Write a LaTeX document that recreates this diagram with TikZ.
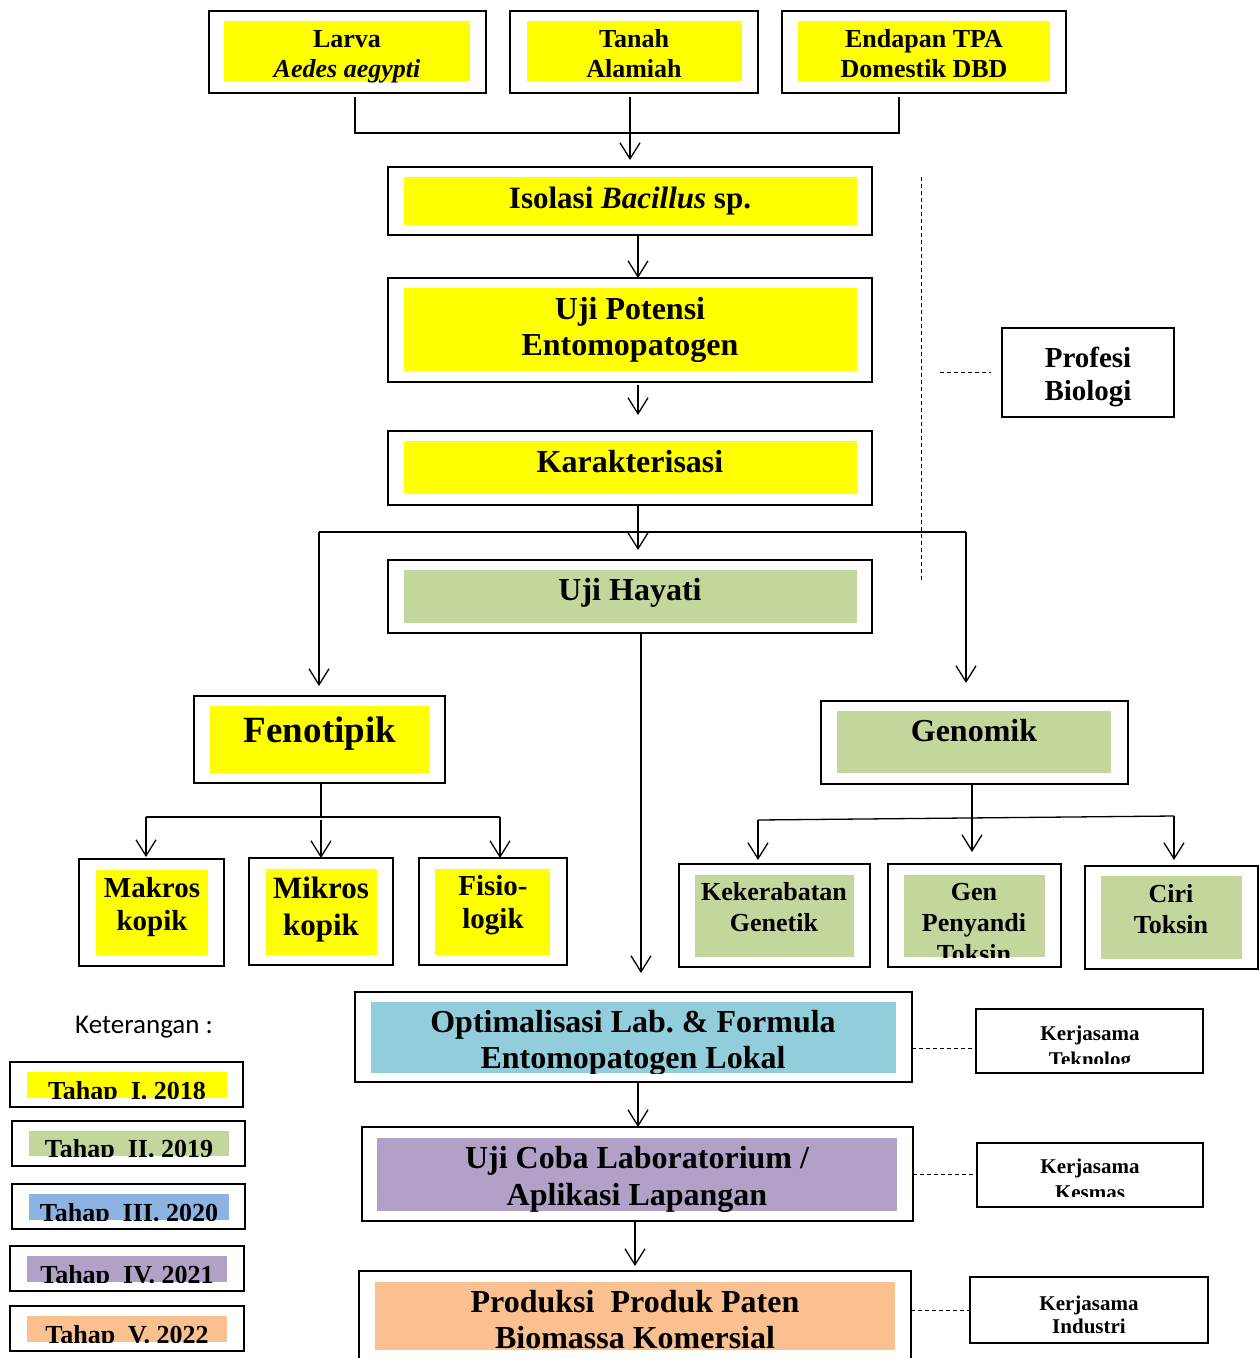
\documentclass[tikz,border=0pt]{standalone}
\usepackage{fontspec}
\setmainfont{Liberation Serif}
\newfontfamily\calfont{Carlito}
\usetikzlibrary{arrows.meta}
\definecolor{cyel}{HTML}{FFFF00}
\definecolor{cgrn}{HTML}{C3D69B}
\definecolor{ccyan}{HTML}{92CDDC}
\definecolor{cpur}{HTML}{B2A1C7}
\definecolor{corg}{HTML}{FAC090}
\definecolor{cblu}{HTML}{8DB3E2}
\frenchspacing
\newcommand\fs[1]{\fontsize{#1}{#1}\selectfont\bfseries}
\newcommand\ob[5]{\node[obox, minimum width={#4-#2}, minimum height={#5-#3}] (#1) at ({(#2+#4)/2},{(#3+#5)/2}) {};}
\newcommand\ib[5]{\fill[#1] (#2,#3) rectangle (#4,#5);}
\newcommand\tx[5]{\node[txt,font=\fs{#4}] (#1) at (#2,#3) {#5};}
\tikzset{
  obox/.style={draw, line width=2pt, inner sep=0pt, outer sep=0pt},
  txt/.style={anchor=base, inner sep=0pt, outer sep=0pt},
  conn/.style={line width=1.3pt},
  arr/.style={line width=1.3pt, -{Straight Barb[length=16pt,width=20pt,line width=1.3pt]}},
  dsh/.style={line width=1pt, dash pattern=on 4pt off 3pt},
}
\begin{document}
\begin{tikzpicture}[x=1pt,y=-1pt]
\useasboundingbox (0,0) rectangle (1260,1358);
\fill[white] (0,0) rectangle (1260,1358);

% ---- top sources
\ob{larva}{209}{11}{486}{93}
\ib{cyel}{224}{21}{470}{81}
\tx{t1a}{347}{47}{26}{Larva}
\node[txt,font=\fs{26}\itshape] (t1b) at (347,77) {Aedes aegypti};

\ob{tanah}{510}{11}{758}{93}
\ib{cyel}{527}{21}{742}{81}
\tx{t2a}{634}{47}{26}{Tanah}
\tx{t2b}{634}{77}{26}{Alamiah}

\ob{endap}{782}{11}{1066}{93}
\ib{cyel}{798}{21}{1050}{81}
\tx{t3a}{924}{47}{26}{Endapan TPA}
\tx{t3b}{924}{77}{26}{Domestik DBD}

% ---- main column
\ob{iso}{388}{167}{872}{235}
\ib{cyel}{404}{177}{857}{225}
\tx{t4}{630}{208}{31}{Isolasi \textit{Bacillus} sp.}

\ob{upot}{388}{278}{872}{382}
\ib{cyel}{404}{288}{857}{371}
\tx{t5a}{630}{319}{32}{Uji Potensi}
\tx{t5b}{630}{355}{32}{Entomopatogen}

\ob{kar}{388}{431}{872}{505}
\ib{cyel}{404}{441}{857}{494}
\tx{t6}{630}{472}{32}{Karakterisasi}

\ob{uh}{388}{560}{872}{633}
\ib{cgrn}{404}{570}{857}{623}
\tx{t7}{630}{600}{32}{Uji Hayati}

\ob{prof}{1002}{328}{1174}{417}
\tx{t8a}{1088}{367}{29}{Profesi}
\tx{t8b}{1088}{400}{29}{Biologi}

% ---- fenotipik branch
\ob{feno}{194}{696}{445}{783}
\ib{cyel}{210}{706}{429}{773}
\tx{t9}{320}{742}{37}{Fenotipik}

\ob{makro}{79}{859}{224}{966}
\ib{cyel}{96}{870}{208}{955}
\tx{t10a}{152}{897}{29}{Makros}
\tx{t10b}{152}{930}{29}{kopik}

\ob{mikro}{249}{858}{393}{965}
\ib{cyel}{266}{869}{377}{955}
\tx{t11a}{321}{898}{31}{Mikros}
\tx{t11b}{321}{935}{31}{kopik}

\ob{fisio}{419}{858}{567}{965}
\ib{cyel}{435}{869}{550}{955}
\tx{t12a}{493}{895}{29}{Fisio-}
\tx{t12b}{493}{928}{29}{logik}

% ---- genomik branch
\ob{geno}{821}{701}{1128}{784}
\ib{cgrn}{837}{711}{1111}{773}
\tx{t13}{974}{741}{32}{Genomik}

\ob{kek}{679}{864}{870}{967}
\ib{cgrn}{695}{875}{854}{957}
\tx{t14a}{774}{900}{26}{Kekerabatan}
\tx{t14b}{774}{931}{26}{Genetik}

\ob{gene}{888}{864}{1061}{967}
\ib{cgrn}{904}{875}{1045}{957}
\begin{scope}
\clip (904,875) rectangle (1045,957);
\tx{t15a}{974}{900}{26}{Gen}
\tx{t15b}{974}{931}{26}{Penyandi}
\tx{t15c}{974}{962}{26}{Toksin}
\end{scope}

\ob{ciri}{1085}{866}{1258}{969}
\ib{cgrn}{1101}{876}{1242}{959}
\tx{t16a}{1171}{902}{26}{Ciri}
\tx{t16b}{1171}{933}{26}{Toksin}

% ---- lower column
\ob{opt}{355}{992}{912}{1082}
\ib{ccyan}{371}{1002}{896}{1073}
\begin{scope}
\clip (371,1002) rectangle (896,1073);
\tx{t17a}{633}{1032}{32}{Optimalisasi Lab. \& Formula}
\tx{t17b}{633}{1068}{32}{Entomopatogen Lokal}
\end{scope}

\ob{coba}{362}{1127}{913}{1221}
\ib{cpur}{377}{1138}{897}{1211}
\tx{t18a}{637}{1168}{32}{Uji Coba Laboratorium /}
\tx{t18b}{637}{1205}{32}{Aplikasi Lapangan}

\ob{prod}{359}{1271}{911}{1380}
\ib{corg}{375}{1282}{895}{1350}
\tx{t19a}{635}{1312}{32}{Produksi\ \ Produk Paten}
\tx{t19b}{635}{1348}{32}{Biomassa Komersial}

\ob{kt}{976}{1009}{1203}{1073}
\begin{scope}
\clip (976,1009) rectangle (1203,1063);
\tx{t20a}{1090}{1040}{21}{Kerjasama}
\tx{t20b}{1090}{1066}{21}{Teknolog}
\end{scope}

\ob{ks}{977}{1143}{1203}{1207}
\begin{scope}
\clip (977,1143) rectangle (1203,1196);
\tx{t21a}{1090}{1173}{21}{Kerjasama}
\tx{t21b}{1090}{1199}{21}{Kesmas}
\end{scope}

\ob{ki}{970}{1277}{1208}{1343}
\tx{t22a}{1089}{1310}{21}{Kerjasama}
\tx{t22b}{1089}{1333}{21}{Industri}

% ---- legend
\node[anchor=base west, inner sep=0pt, font=\calfont\fontsize{27}{27}\selectfont] (ket) at (75,1033) {Keterangan :};

\ob{lg1}{10}{1062}{243}{1107}
\ib{cyel}{27}{1072}{227}{1098}
\begin{scope}\clip (27,1072) rectangle (227,1098);
\tx{l1}{127}{1099}{26}{Tahap\ \ I. 2018}
\end{scope}

\ob{lg2}{12}{1121}{245}{1166}
\ib{cgrn}{29}{1131}{229}{1156}
\begin{scope}\clip (29,1131) rectangle (229,1156);
\tx{l2}{129}{1157}{26}{Tahap\ \ II. 2019}
\end{scope}

\ob{lg3}{12}{1184}{245}{1229}
\ib{cblu}{29}{1194}{229}{1220}
\begin{scope}\clip (29,1194) rectangle (229,1220);
\tx{l3}{129}{1221}{26}{Tahap\ \ III. 2020}
\end{scope}

\ob{lg4}{10}{1246}{244}{1291}
\ib{cpur}{27}{1256}{227}{1282}
\begin{scope}\clip (27,1256) rectangle (227,1282);
\tx{l4}{127}{1283}{26}{Tahap\ \ IV. 2021}
\end{scope}

\ob{lg5}{10}{1306}{244}{1351}
\ib{corg}{27}{1316}{227}{1342}
\begin{scope}\clip (27,1316) rectangle (227,1342);
\tx{l5}{127}{1343}{26}{Tahap\ \ V. 2022}
\end{scope}

% ---- connectors
\coordinate (jTop) at (630,133);
\draw[conn] ([xshift=7.5pt,yshift=-4pt]larva.south) |- (jTop) -| ([xshift=-25pt,yshift=-4pt]endap.south);
\draw[arr] ([xshift=-4pt,yshift=-4pt]tanah.south) -- ([yshift=7pt]iso.north);
\draw[arr] ([xshift=8pt]iso.south) -- ([xshift=8pt]upot.north);
\draw[arr] ([xshift=8pt,yshift=-3pt]upot.south) -- ([xshift=8pt,yshift=16pt]kar.north);
\draw[arr] ([xshift=8pt]kar.south) -- ([xshift=8pt,yshift=10pt]uh.north);

\coordinate (kL) at (319,532);
\coordinate (kR) at (966,532);
\draw[conn] (kL) -- (kR);
\draw[arr] (kL) -- ([yshift=10pt]kL |- feno.north);
\draw[arr] (kR) -- ([yshift=18pt]kR |- geno.north);

\draw[arr] ([xshift=11pt]uh.south) -- ([xshift=11pt,yshift=19pt]uh.south |- opt.north);

\coordinate (fL) at (146,817);
\coordinate (fR) at (500,817);
\draw[conn] ([xshift=1.5pt]feno.south) -- ([xshift=1.5pt]feno.south |- fL);
\draw[conn] (fL) -- (fR);
\draw[arr] (fL) -- ([yshift=2pt]fL |- makro.north);
\draw[arr] ([xshift=1.5pt,yshift=-3pt]feno.south |- fL) -- ([xshift=1.5pt]feno.south |- mikro.north);
\draw[arr] (fR) -- (fR |- fisio.north);

\coordinate (gL) at (758,820);
\coordinate (gR) at (1174,816);
\draw[arr] ([xshift=-2.5pt]geno.south) -- ([xshift=-2.5pt,yshift=12pt]geno.south |- gene.north);
\draw[conn] (gL) -- (gR);
\draw[arr] (gL) -- ([yshift=4pt]gL |- kek.north);
\draw[arr] (gR) -- ([yshift=6pt]gR |- ciri.north);

\coordinate (dT) at (921,177);
\coordinate (dB) at (921,582);
\draw[dsh] (dT) -- (dB);
\draw[dsh] ([xshift=-62pt]prof.west) -- ([xshift=-11pt]prof.west);

\draw[arr] ([xshift=4.5pt]opt.south) -- ([xshift=4.5pt]opt.south |- coba.north);
\draw[arr] ([xshift=-2.5pt]coba.south) -- ([xshift=-2.5pt,yshift=5pt]coba.south |- prod.north);

\draw[dsh] ([yshift=-11pt]opt.east) -- ([yshift=-11pt]opt.east -| kt.west);
\draw[dsh] (coba.east) -- (coba.east -| ks.west);
\draw[dsh] (ki.west -| prod.east) -- (ki.west);
\end{tikzpicture}
\end{document}
